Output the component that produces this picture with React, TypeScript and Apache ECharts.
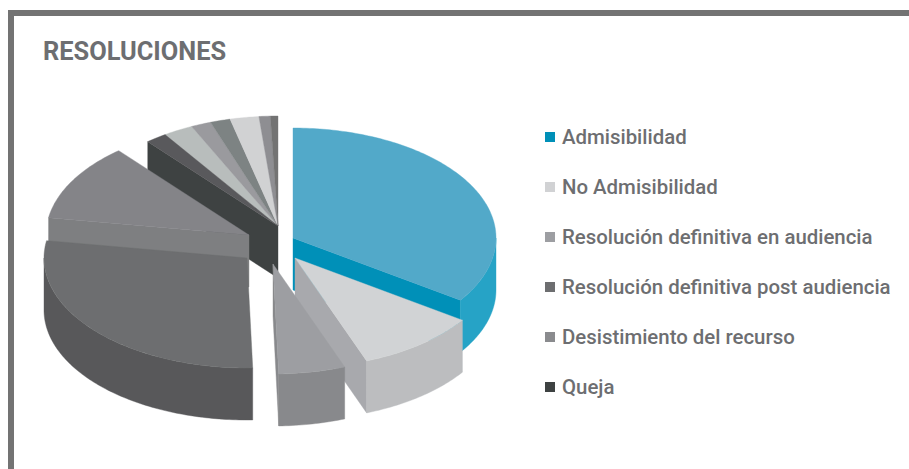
import React, { useEffect, useRef } from "react";
import * as echarts from "echarts";

const titleText = "RESOLUCIONES";
const categories = [
  "Admisibilidad",
  "No Admisibilidad",
  "Resolución definitiva en audiencia",
  "Resolución definitiva post audiencia",
  "Desistimiento del recurso",
  "Queja",
];
const categoryValues = [34.6, 9.7, 5.3, 28, 11.4, 1.7];
// Thin wedges at the back of the pie, not named in the legend
const unlabelledValues = [2.4, 1.6, 1.6, 2.3, 0.9, 0.6];

const legendColors = ["#0090b8", "#d1d2d4", "#9d9ea2", "#6d6e70", "#8a8b8e", "#3e4242"];
const topColors = ["#52a9c9", "#d1d3d5", "#9d9ea2", "#6d6e70", "#848488", "#59595c", "#b8bdbc", "#9a9a9e", "#7d8383", "#d1d2d3", "#8e8e92", "#737373"];
const sideColors = ["#26a3c6", "#bcbdbf", "#88898c", "#58585a", "#848488", "#3e4242", "#3e4242", "#3e4242", "#3e4242", "#3e4242", "#3e4242", "#3e4242"];
const cutColors = ["#0090b8", "#a8a9ad", "#88898c", "#58585a", "#7e7f81", "#3e4242", "#3e4242", "#3e4242", "#3e4242", "#3e4242", "#3e4242", "#3e4242"];

// Explode offset of each wedge and painting order
const offsets: number[][] = [[0, 0], [2, 20], [-20, 26], [-46, 20], [-44, -3], [-15, -12], [-15, -12], [-15, -12], [-15, -12], [-15, -12], [-15, -12], [-15, -12]];
const paintRank = [6, 7, 8, 5, 4, 3, 0, 0, 0, 0, 0, 0];

const CX = 293;
const CY = 238;
const RX = 203;
const RY = 110;
const DEPTH = 52;

const allValues = [...categoryValues, ...unlabelledValues];
const total = allValues.reduce((a, b) => a + b, 0);

function wedgeAngles(index: number) {
  let before = 0;
  for (let i = 0; i < index; i++) before += allValues[i];
  const t0 = -Math.PI / 2 + (before / total) * Math.PI * 2;
  return [t0, t0 + (allValues[index] / total) * Math.PI * 2];
}

function renderWedge(index: number) {
  return () => {
    const [t0, t1] = wedgeAngles(index);
    const ax = CX + offsets[index][0];
    const ay = CY + offsets[index][1];
    const rim = (t: number, drop = 0) => [ax + RX * Math.cos(t), ay + RY * Math.sin(t) + drop];
    const arc = (a: number, b: number, drop = 0) => {
      const n = Math.max(2, Math.ceil(Math.abs(b - a) * 60));
      const pts: number[][] = [];
      for (let i = 0; i <= n; i++) pts.push(rim(a + ((b - a) * i) / n, drop));
      return pts;
    };
    const poly = (points: number[][], color: string) => ({
      type: "polygon",
      shape: { points },
      style: { fill: color, stroke: color, lineWidth: 0.4 },
    });
    const children: any[] = [];
    const cut = (t: number) =>
      poly([[ax, ay], rim(t), rim(t, DEPTH), [ax, ay + DEPTH]], cutColors[index]);
    // The unlabelled wedges touch each other, so their cut faces stay hidden
    if (index < categories.length) {
      if (Math.cos(t0) < 0) children.push(cut(t0));
      if (Math.cos(t1) > 0) children.push(cut(t1));
    }
    // Only the near half of the rim has a visible wall
    const ranges = [[0, Math.PI], [2 * Math.PI, 3 * Math.PI]];
    for (const [lo, hi] of ranges) {
      const a = Math.max(t0, lo);
      const b = Math.min(t1, hi);
      if (b > a) children.push(poly([...arc(a, b), ...arc(b, a, DEPTH)], sideColors[index]));
    }
    children.push(poly([[ax, ay], ...arc(t0, t1)], topColors[index]));
    return { type: "group", children };
  };
}

export default function App() {
  const ref = useRef<HTMLDivElement>(null);
  useEffect(() => {
    const chart = echarts.init(ref.current!, undefined, { renderer: "svg" });
    chart.setOption({
      animation: false,
      backgroundColor: "#ffffff",
      title: {
        text: titleText,
        left: 38,
        top: 33,
        textStyle: { color: "#6d6e71", fontFamily: "Roboto", fontWeight: 700, fontSize: 25.4 },
      },
      legend: {
        orient: "vertical",
        left: 540,
        top: 122,
        data: categories,
        icon: "rect",
        itemWidth: 10,
        itemHeight: 10,
        itemGap: 30,
        selectedMode: false,
        textStyle: { color: "#6d6e71", fontFamily: "Roboto", fontWeight: 500, fontSize: 20.4, padding: [0, 0, 6, 2] },
      },
      graphic: [
        {
          type: "polyline",
          silent: true,
          shape: { points: [[11, 469], [11, 13], [909, 13]] },
          style: { fill: "none", stroke: "#737373", lineWidth: 6 },
        },
      ],
      series: allValues.map((value, i) => ({
        type: "custom",
        name: categories[i] ?? `Sin etiqueta ${i - categories.length + 1}`,
        coordinateSystem: "none",
        silent: true,
        z: 2 + paintRank[i],
        itemStyle: { color: legendColors[i] ?? topColors[i] },
        data: [[value]],
        renderItem: renderWedge(i),
      })),
    });
    return () => chart.dispose();
  }, []);
  return <div ref={ref} style={{ position: "fixed", left: 0, top: 0, width: 909, height: 469 }} />;
}
